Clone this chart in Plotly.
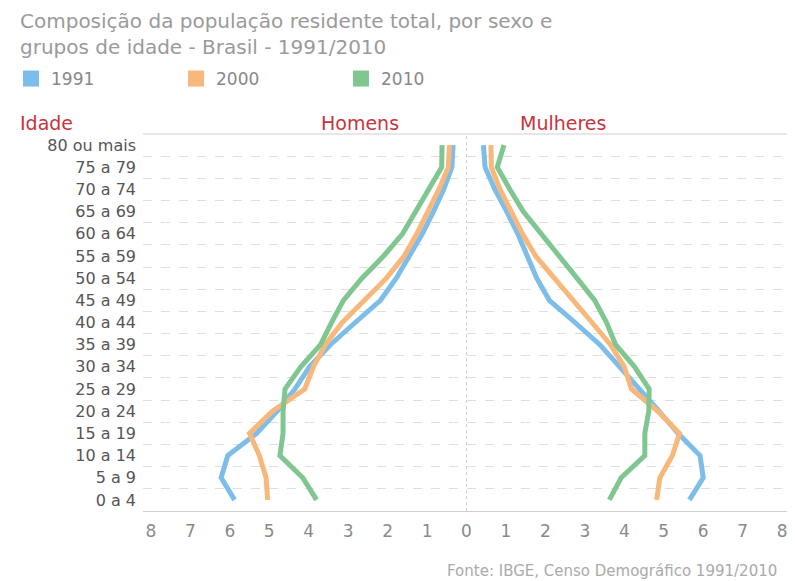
import plotly.graph_objects as go

# Age groups, bottom (youngest) to top (oldest)
AGES = ["0 a 4", "5 a 9", "10 a 14", "15 a 19", "20 a 24", "25 a 29", "30 a 34",
        "35 a 39", "40 a 44", "45 a 49", "50 a 54", "55 a 59", "60 a 64", "65 a 69",
        "70 a 74", "75 a 79", "80 ou mais"]

YEARS = ["1991", "2000", "2010"]

# Percent of total population - men (Homens)
HOMENS_1991 = [5.88, 6.22, 6.05, 5.32, 4.80, 4.35, 3.98, 3.45, 2.82, 2.18, 1.78, 1.45, 1.12, 0.84, 0.58, 0.37, 0.34]
HOMENS_2000 = [5.04, 5.08, 5.25, 5.50, 4.92, 4.10, 3.88, 3.58, 3.15, 2.60, 2.03, 1.58, 1.26, 0.98, 0.70, 0.46, 0.43]
HOMENS_2010 = [3.80, 4.15, 4.73, 4.65, 4.65, 4.60, 4.20, 3.70, 3.42, 3.12, 2.65, 2.10, 1.62, 1.28, 0.95, 0.63, 0.62]

# Percent of total population - women (Mulheres)
MULHERES_1991 = [5.65, 6.00, 5.92, 5.36, 4.88, 4.38, 3.92, 3.38, 2.75, 2.10, 1.78, 1.55, 1.30, 1.02, 0.72, 0.47, 0.43]
MULHERES_2000 = [4.82, 4.90, 5.22, 5.40, 4.85, 4.18, 4.00, 3.65, 3.18, 2.70, 2.20, 1.75, 1.42, 1.15, 0.85, 0.63, 0.62]
MULHERES_2010 = [3.62, 3.92, 4.52, 4.52, 4.62, 4.63, 4.26, 3.78, 3.55, 3.25, 2.80, 2.35, 1.90, 1.44, 1.10, 0.78, 0.95]

X_TICKS = [-8, -7, -6, -5, -4, -3, -2, -1, 0, 1, 2, 3, 4, 5, 6, 7, 8]
X_TICK_LABELS = ["8", "7", "6", "5", "4", "3", "2", "1", "0", "1", "2", "3", "4", "5", "6", "7", "8"]

TITLE = "Composição da população residente total, por sexo e<br>grupos de idade - Brasil - 1991/2010"

COLORS = {"1991": "#7dbde9", "2000": "#f8b87c", "2010": "#80c690"}

homens = {"1991": HOMENS_1991, "2000": HOMENS_2000, "2010": HOMENS_2010}
mulheres = {"1991": MULHERES_1991, "2000": MULHERES_2000, "2010": MULHERES_2010}

fig = go.Figure()

for yr in YEARS:
    c = COLORS[yr]
    # legend-only square entry
    fig.add_trace(go.Scatter(x=[None], y=[None], mode="markers", name=yr, legendgroup=yr,
                             marker=dict(symbol="square", size=18, color=c), showlegend=True))
    fig.add_trace(go.Scatter(x=[-v for v in homens[yr]], y=AGES, mode="lines", name=yr,
                             legendgroup=yr, showlegend=False,
                             line=dict(color=c, width=5)))
    fig.add_trace(go.Scatter(x=mulheres[yr], y=AGES, mode="lines", name=yr,
                             legendgroup=yr, showlegend=False,
                             line=dict(color=c, width=5)))

RED = "#c8343c"
# page body adds an 8px offset; figure is sized to fit the window
W, H = 787, 573
L, R, T, B = 135, 5, 126, 70
PH = H - T - B
PW = W - L - R

annotations = [
    dict(text=TITLE, xref="paper", yref="paper", x=(10 - L) / PW,
         xanchor="left", align="left",
         y=1 + (T - 26) / PH, yanchor="middle", showarrow=False,
         font=dict(size=20, color="#9a9a9a")),
    dict(text="Idade", xref="paper", yref="paper", x=(10 - L) / PW, xanchor="left",
         y=1 + 11 / PH, yanchor="middle", showarrow=False,
         font=dict(size=19, color=RED)),
    dict(text="Homens", xref="paper", yref="paper", x=(352 - L) / PW, xanchor="center",
         y=1 + 11 / PH, yanchor="middle", showarrow=False,
         font=dict(size=19, color=RED)),
    dict(text="Mulheres", xref="paper", yref="paper", x=(555 - L) / PW, xanchor="center",
         y=1 + 11 / PH, yanchor="middle", showarrow=False,
         font=dict(size=19, color=RED)),
    dict(text="Fonte: IBGE, Censo Demográfico 1991/2010", xref="paper", yref="paper",
         x=(771 - L) / PW, xanchor="right", y=-60 / PH, yanchor="middle", showarrow=False,
         font=dict(size=15, color="#aaaaaa")),
]

fig.update_layout(
    width=W, height=H,
    margin=dict(l=L, r=R, t=T, b=B),
    paper_bgcolor="white", plot_bgcolor="white",
    font=dict(family="DejaVu Sans", color="#888"),
    legend=dict(orientation="h", xref="container", yref="container",
                x=3 / W, xanchor="left", y=1 - 71 / H, yanchor="middle",
                font=dict(size=17, color="#888"), itemwidth=30,
                entrywidth=120, traceorder="normal"),
    showlegend=True,
    xaxis=dict(range=[-8.2, 8.2], tickmode="array", tickvals=X_TICKS, ticktext=X_TICK_LABELS,
               showgrid=False, zeroline=False, showline=True, linecolor="#cfcfcf", linewidth=1,
               ticks="", tickfont=dict(size=17, color="#8a8a8a"), ticklabelstandoff=5),
    yaxis=dict(type="category", categoryorder="array", categoryarray=AGES,
               range=[-0.5, len(AGES) - 0.5], tickson="boundaries",
               showgrid=True, gridcolor="#dedede", griddash="dash", gridwidth=1,
               zeroline=False, showline=False, ticks="",
               tickfont=dict(size=16, color="#555"), ticklabelstandoff=6),
    shapes=[
        dict(type="line", xref="paper", yref="paper", x0=0, x1=1, y0=1, y1=1,
             line=dict(color="#cfcfcf", width=1)),
        dict(type="line", xref="x", yref="paper", x0=0, x1=0, y0=0, y1=1,
             line=dict(color="#d0d0d0", width=1, dash="dot")),
    ],
    annotations=annotations,
)

fig.write_html("out.html")
